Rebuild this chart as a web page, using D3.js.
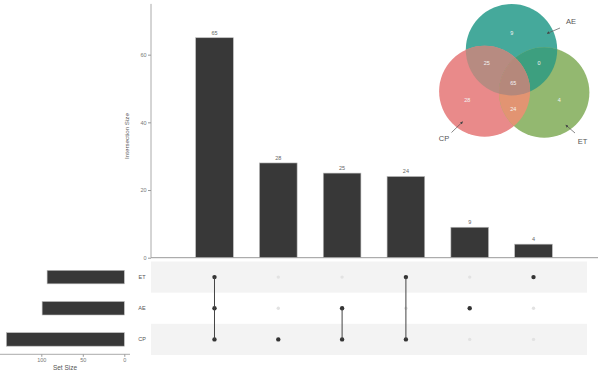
<!DOCTYPE html>
<html>
<head>
<meta charset="utf-8">
<script src="https://cdn.jsdelivr.net/npm/d3@7"></script>
<style>
  body { margin: 0; background: #fff; }
  svg { display: block; font-family: "Liberation Sans", Arial, sans-serif; }
</style>
</head>
<body>
<svg id="chart" width="600" height="373"></svg>
<script>
// sets, top to bottom in the matrix
const sets = ["ET", "AE", "CP"];
const setSizes = [93, 99, 142];

// intersections, in bar order
const interMembers = [["ET", "AE", "CP"], ["CP"], ["AE", "CP"], ["ET", "CP"], ["AE"], ["ET"]];
const interValues = [65, 28, 25, 24, 9, 4];

const yTicks = [0, 20, 40, 60];
const setTicks = [0, 50, 100];

const svg = d3.select("#chart");

// ---------- intersection bars ----------
const x = d3.scaleBand()
    .domain(d3.range(interValues.length))
    .range([151, 597])
    .paddingInner(0.41)
    .paddingOuter(0.7);

const y = d3.scaleLinear().domain([0, 75]).range([257.7, 3.9]);

const bars = svg.append("g");
bars.selectAll("rect")
    .data(interValues)
    .join("rect")
    .attr("x", (d, i) => x(i))
    .attr("y", d => y(d))
    .attr("width", x.bandwidth())
    .attr("height", d => y(0) - y(d))
    .attr("fill", "#383838")
    .attr("stroke", "#bbb")
    .attr("stroke-width", 0.6);

bars.selectAll("text")
    .data(interValues)
    .join("text")
    .attr("x", (d, i) => x(i) + x.bandwidth() / 2)
    .attr("y", d => y(d) - 3.2)
    .attr("text-anchor", "middle")
    .attr("font-size", 5.5)
    .attr("fill", "#666")
    .text(d => d);

// y axis
const yAxis = svg.append("g").attr("transform", "translate(151,0)")
    .call(d3.axisLeft(y).tickValues(yTicks).tickSize(3).tickPadding(1.5));
yAxis.select(".domain").attr("stroke", "#aaa").attr("d", `M0,${y(0)}V${y(75)}`);
yAxis.selectAll(".tick line").attr("stroke", "#999");
yAxis.selectAll(".tick text").attr("font-size", 5.5).attr("fill", "#777").attr("font-family", "Liberation Sans, Arial, sans-serif");

svg.append("text")
    .attr("transform", "translate(129,136) rotate(-90)")
    .attr("text-anchor", "middle")
    .attr("font-size", 6.2)
    .attr("fill", "#555")
    .text("Intersection Size");

// baseline
svg.append("line")
    .attr("x1", 151).attr("x2", 598)
    .attr("y1", y(0)).attr("y2", y(0))
    .attr("stroke", "#999").attr("stroke-width", 1);

// ---------- matrix ----------
const row = d3.scaleBand().domain(sets).range([261.5, 355]);

svg.append("g").selectAll("rect")
    .data(sets.filter((s, i) => i % 2 === 0))
    .join("rect")
    .attr("x", 151)
    .attr("y", d => row(d))
    .attr("width", 436)
    .attr("height", row.bandwidth())
    .attr("fill", "#f3f3f3");

const matrix = svg.append("g");
interMembers.forEach((members, i) => {
    const cx = x(i) + x.bandwidth() / 2;
    const ys = members.map(s => row(s) + row.bandwidth() / 2);
    sets.forEach(s => {
        const on = members.includes(s);
        matrix.append("circle")
            .attr("cx", cx)
            .attr("cy", row(s) + row.bandwidth() / 2)
            .attr("r", on ? 2.2 : 1.7)
            .attr("fill", on ? "#333" : "#e2e2e2");
    });
    if (members.length > 1) {
        matrix.append("line")
            .attr("x1", cx).attr("x2", cx)
            .attr("y1", d3.min(ys)).attr("y2", d3.max(ys))
            .attr("stroke", "#444").attr("stroke-width", 1);
    }
});

// set labels
svg.append("g").selectAll("text")
    .data(sets)
    .join("text")
    .attr("x", 142)
    .attr("y", d => row(d) + row.bandwidth() / 2 + 2)
    .attr("text-anchor", "middle")
    .attr("font-size", 5.5)
    .attr("fill", "#555")
    .text(d => d);

// ---------- set size bars ----------
const sx = d3.scaleLinear().domain([0, 150]).range([124.3, -0.2]);
const barH = 13.5;

svg.append("g").selectAll("rect")
    .data(setSizes)
    .join("rect")
    .attr("x", d => sx(d))
    .attr("y", (d, i) => row(sets[i]) + (row.bandwidth() - barH) / 2)
    .attr("width", d => sx(0) - sx(d))
    .attr("height", barH)
    .attr("fill", "#383838")
    .attr("stroke", "#bbb")
    .attr("stroke-width", 0.6);

const sAxis = svg.append("g").attr("transform", "translate(0,354.3)")
    .call(d3.axisBottom(sx).tickValues(setTicks).tickSize(2.5).tickPadding(1.5));
sAxis.select(".domain").attr("stroke", "#aaa").attr("d", "M0,0H130");
sAxis.selectAll(".tick line").attr("stroke", "#999");
sAxis.selectAll(".tick text").attr("font-size", 5.5).attr("fill", "#777").attr("font-family", "Liberation Sans, Arial, sans-serif");

svg.append("text")
    .attr("x", 65).attr("y", 370)
    .attr("text-anchor", "middle")
    .attr("font-size", 6.5)
    .attr("fill", "#555")
    .text("Set Size");

// ---------- venn ----------
const vennCircles = { AE: [511.5, 49.7, 45.7], CP: [484.6, 91.3, 45.5], ET: [544.2, 92.5, 45.2] };
const vennColors = { AE: "#45a99b", CP: "#e98a8a", ET: "#93b870" };

const defs = svg.append("defs");
sets.forEach(s => {
    const [cx, cy, r] = vennCircles[s];
    defs.append("clipPath").attr("id", "clip-" + s)
        .append("circle").attr("cx", cx).attr("cy", cy).attr("r", r);
});

const venn = svg.append("g");
function vennCircle(g, s, fill) {
    const [cx, cy, r] = vennCircles[s];
    g.append("circle").attr("cx", cx).attr("cy", cy).attr("r", r).attr("fill", fill);
}
["AE", "CP", "ET"].forEach(s => vennCircle(venn, s, vennColors[s]));
vennCircle(venn.append("g").attr("clip-path", "url(#clip-AE)"), "CP", "#b78b81");
vennCircle(venn.append("g").attr("clip-path", "url(#clip-AE)"), "ET", "#3d9f7f");
vennCircle(venn.append("g").attr("clip-path", "url(#clip-CP)"), "ET", "#e29472");
vennCircle(venn.append("g").attr("clip-path", "url(#clip-AE)")
    .append("g").attr("clip-path", "url(#clip-CP)"), "ET", "#b5887b");

// region counts come from the intersections
const key = m => [...m].sort().join("&");
const countOf = m => {
    const i = interMembers.findIndex(d => key(d) === key(m));
    return i < 0 ? 0 : interValues[i];
};
const vennRegions = [
    [["AE"], 511.7, 33.3], [["AE", "CP"], 486.7, 62.7], [["AE", "ET"], 539, 62.7],
    [["ET", "AE", "CP"], 513.3, 82.7], [["CP"], 467.3, 100], [["ET", "CP"], 513.3, 109],
    [["ET"], 559.3, 100]
];
venn.selectAll("text.count")
    .data(vennRegions)
    .join("text")
    .attr("class", "count")
    .attr("x", d => d[1]).attr("y", d => d[2] + 2)
    .attr("text-anchor", "middle")
    .attr("font-size", 5.5)
    .attr("fill", "#f4f4f4")
    .text(d => countOf(d[0]));

defs.append("marker").attr("id", "arrow")
    .attr("viewBox", "0 0 10 10").attr("refX", 9).attr("refY", 5)
    .attr("markerWidth", 4).attr("markerHeight", 4).attr("orient", "auto")
    .append("path").attr("d", "M0,0L10,5L0,10Z").attr("fill", "#444");

const vennLabels = [
    ["AE", 571, 24, 560, 28, 547, 33.5],
    ["CP", 444, 141, 451.5, 132.5, 462.7, 121.7],
    ["ET", 582.5, 144, 575, 133, 565.7, 125]
];
vennLabels.forEach(([t, tx, ty, x1, y1, x2, y2]) => {
    venn.append("line").attr("x1", x1).attr("y1", y1).attr("x2", x2).attr("y2", y2)
        .attr("stroke", "#555").attr("stroke-width", 0.7).attr("marker-end", "url(#arrow)");
    venn.append("text").attr("x", tx).attr("y", ty)
        .attr("text-anchor", "middle").attr("font-size", 7.5).attr("fill", "#555").text(t);
});
</script>
</body>
</html>
